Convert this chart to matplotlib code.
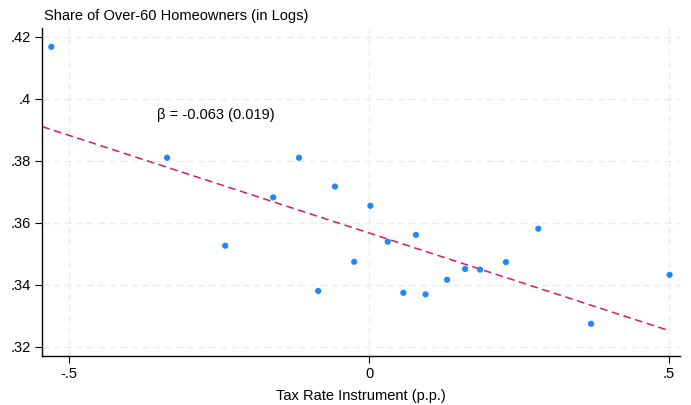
import numpy as np
import matplotlib
matplotlib.use("Agg")
import matplotlib.pyplot as plt

plt.rcParams['font.family'] = ['Liberation Sans', 'DejaVu Sans']

# binned scatter data
tax_rate = [-0.530, -0.337, -0.240, -0.160, -0.117, -0.085, -0.057, -0.025,
            0.002, 0.031, 0.057, 0.078, 0.094, 0.130, 0.160, 0.185,
            0.228, 0.282, 0.370, 0.501]
share_over60 = [0.4168, 0.3810, 0.3526, 0.3682, 0.3810, 0.3380, 0.3717, 0.3474,
                0.3655, 0.3539, 0.3374, 0.3561, 0.3369, 0.3416, 0.3451, 0.3449,
                0.3473, 0.3581, 0.3274, 0.3432]

# fitted line
beta = -0.063
const = 0.3567
fit_range = [-0.545, 0.5]

xticks = [-0.5, 0, 0.5]
xtick_labels = ['-.5', '0', '.5']
yticks = [0.32, 0.34, 0.36, 0.38, 0.40, 0.42]
ytick_labels = ['.32', '.34', '.36', '.38', '.4', '.42']

fig = plt.figure(figsize=(6.91, 4.05), dpi=100)
ax = fig.add_axes([0.0608, 0.121, 0.923, 0.81])

fx = np.array(fit_range)
ax.plot(fx, const + beta * fx, color='#d81b60', linestyle=(0, (5, 3)), linewidth=1.1, zorder=2)
ax.scatter(tax_rate, share_over60, s=20, color='#1e88ff', edgecolors='none', zorder=3)

ax.text(-0.354, 0.3947, 'β = -0.063 (0.019)', fontsize=10.5, ha='left', va='center')

ax.set_xlim(-0.5455, 0.518)
ax.set_ylim(0.317, 0.4229)
ax.set_xticks(xticks)
ax.set_xticklabels(xtick_labels)
ax.set_yticks(yticks)
ax.set_yticklabels(ytick_labels)
ax.tick_params(labelsize=10.5, length=5, width=0.8, color='black', pad=3)

ax.grid(True, color='#ebebeb', linestyle=(0, (5, 3)), linewidth=1)
ax.set_axisbelow(True)
for s in ['top', 'right']:
    ax.spines[s].set_visible(False)
for s in ['left', 'bottom']:
    ax.spines[s].set_linewidth(1)

ax.set_xlabel('Tax Rate Instrument (p.p.)', fontsize=10.5, labelpad=6)
fig.text(0.0637, 0.96, 'Share of Over-60 Homeowners (in Logs)', fontsize=10.5, ha='left', va='center')

fig.savefig('out.png', dpi=100)
